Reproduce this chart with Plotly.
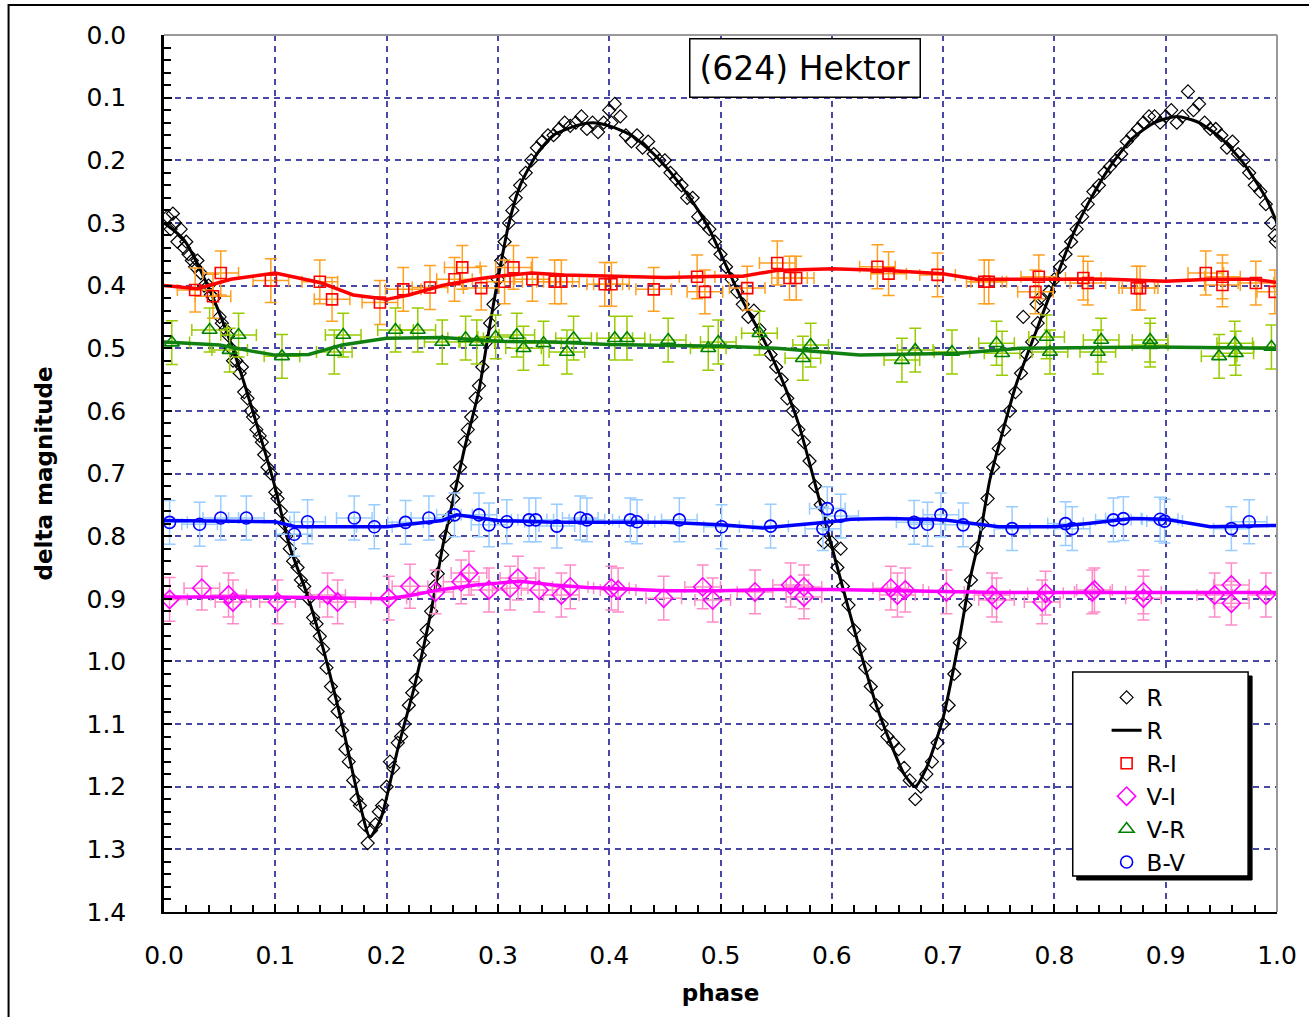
import plotly.graph_objects as go

# ---------------- data ----------------
# R light curve observations (phase, delta magnitude)
r_phase = [0.003,0.006,0.008,0.01,0.012,0.015,0.018,0.02,0.022,0.025,0.028,0.03,0.033,0.036,0.04,0.042,0.045,0.05,0.052,0.055,0.058,0.06,0.062,0.065,0.068,0.07,0.072,0.075,0.078,0.08,0.083,0.086,0.088,0.09,0.093,0.096,0.1,0.102,0.105,0.108,0.11,0.113,0.116,0.12,0.123,0.126,0.13,0.134,0.137,0.14,0.143,0.146,0.15,0.153,0.156,0.16,0.163,0.166,0.17,0.173,0.176,0.18,0.183,0.186,0.19,0.193,0.196,
           0.2,0.203,0.206,0.21,0.213,0.216,0.22,0.223,0.226,0.23,0.233,0.236,0.24,0.243,0.246,0.25,0.253,0.256,0.26,0.263,0.266,0.27,0.273,0.276,0.28,0.283,0.286,0.29,0.293,0.296,0.3,0.303,0.306,0.31,0.313,0.316,0.32,0.325,0.33,0.335,0.34,0.345,0.35,0.355,0.36,0.365,0.37,0.375,0.38,0.385,0.39,0.395,
           0.4,0.402,0.405,0.41,0.415,0.42,0.425,0.43,0.435,0.44,0.445,0.45,0.455,0.46,0.465,0.47,0.475,0.48,0.485,0.49,0.495,0.5,0.505,0.51,0.515,0.52,0.525,0.53,0.535,0.54,0.545,0.55,0.555,0.56,0.565,0.57,0.575,0.58,0.585,0.59,0.593,0.595,0.6,0.605,0.608,0.61,0.615,0.62,0.625,0.63,0.635,0.64,0.645,0.65,0.655,0.66,0.665,0.67,0.675,0.68,0.685,0.69,0.695,0.7,
           0.705,0.71,0.715,0.72,0.725,0.73,0.735,0.74,0.745,0.75,0.755,0.76,0.765,0.77,0.772,0.775,0.78,0.784,0.785,0.787,0.79,0.795,0.8,0.805,0.81,0.815,0.82,0.825,0.83,0.835,0.84,0.845,0.85,0.855,0.86,0.865,0.87,0.875,0.88,0.885,0.89,0.895,0.9,0.905,0.91,0.915,0.92,0.925,0.93,0.935,0.94,0.945,0.95,0.955,0.96,0.965,0.97,0.975,0.98,0.985,0.99,0.995,0.998,0.999]
r_mag = [0.29,0.31,0.285,0.30,0.33,0.31,0.34,0.33,0.35,0.36,0.37,0.36,0.38,0.40,0.40,0.415,0.42,0.45,0.46,0.47,0.48,0.50,0.52,0.52,0.54,0.53,0.57,0.58,0.60,0.61,0.63,0.64,0.65,0.67,0.69,0.70,0.73,0.74,0.76,0.78,0.80,0.82,0.84,0.85,0.87,0.88,0.90,0.93,0.94,0.96,0.98,1.01,1.04,1.06,1.08,1.11,1.14,1.16,1.19,1.22,1.23,1.26,1.29,1.27,1.26,1.24,1.23,
         1.20,1.16,1.17,1.13,1.12,1.10,1.07,1.05,1.03,0.99,0.97,0.95,0.92,0.88,0.86,0.83,0.80,0.77,0.74,0.72,0.69,0.65,0.63,0.61,0.58,0.56,0.53,0.49,0.46,0.43,0.39,0.36,0.33,0.30,0.28,0.26,0.24,0.22,0.20,0.18,0.17,0.16,0.16,0.15,0.14,0.145,0.14,0.13,0.15,0.14,0.155,0.14,
         0.12,0.14,0.11,0.13,0.16,0.17,0.16,0.18,0.17,0.19,0.20,0.20,0.22,0.23,0.24,0.26,0.26,0.29,0.30,0.31,0.33,0.35,0.37,0.39,0.41,0.43,0.45,0.44,0.47,0.49,0.51,0.53,0.55,0.58,0.60,0.63,0.65,0.68,0.72,0.75,0.81,0.78,0.81,0.85,0.82,0.88,0.91,0.95,0.98,1.01,1.04,1.07,1.10,1.12,1.13,1.14,1.17,1.19,1.22,1.20,1.18,1.16,1.13,1.10,
         1.07,1.02,0.97,0.91,0.87,0.82,0.78,0.74,0.69,0.66,0.63,0.60,0.57,0.54,0.45,0.51,0.49,0.43,0.46,0.42,0.44,0.41,0.39,0.37,0.35,0.33,0.31,0.29,0.27,0.25,0.24,0.22,0.21,0.20,0.19,0.17,0.16,0.15,0.14,0.13,0.13,0.14,0.13,0.12,0.14,0.13,0.09,0.12,0.11,0.14,0.15,0.15,0.16,0.18,0.17,0.19,0.20,0.22,0.24,0.25,0.27,0.30,0.32,0.33]

# R fitted curve
fit_phase = [0.0,0.018,0.041,0.059,0.071,0.098,0.113,0.128,0.14,0.16,0.175,0.185,0.195,0.21,0.225,0.24,0.25,0.26,0.27,0.283,0.292,0.30,0.31,0.32,0.335,0.35,0.37,0.385,0.40,0.42,0.44,0.46,0.48,0.49,0.504,0.518,0.539,0.554,0.57,0.584,0.608,0.625,0.64,0.655,0.665,0.675,0.685,0.70,0.715,0.724,0.733,0.742,0.754,0.766,0.784,0.802,0.817,0.83,0.85,0.87,0.89,0.91,0.93,0.95,0.97,0.99,1.0]
fit_mag = [0.30,0.327,0.407,0.487,0.55,0.71,0.817,0.89,0.96,1.10,1.22,1.28,1.25,1.14,1.04,0.92,0.82,0.74,0.66,0.567,0.471,0.39,0.30,0.24,0.19,0.16,0.145,0.14,0.145,0.16,0.19,0.23,0.28,0.31,0.364,0.418,0.487,0.545,0.62,0.71,0.87,0.98,1.07,1.14,1.18,1.20,1.17,1.09,0.96,0.87,0.80,0.71,0.63,0.556,0.471,0.386,0.317,0.27,0.21,0.165,0.14,0.13,0.14,0.165,0.205,0.26,0.30]

# R-I
ri_phase = [0.028,0.044,0.051,0.096,0.140,0.151,0.194,0.215,0.239,0.261,0.268,0.285,0.306,0.314,0.331,0.351,0.357,0.396,0.402,0.44,0.479,0.486,0.524,0.551,0.562,0.568,0.641,0.651,0.695,0.737,0.741,0.783,0.786,0.826,0.83,0.874,0.877,0.936,0.951,0.951,0.981,0.998]
ri_mag = [0.407,0.417,0.380,0.392,0.394,0.422,0.427,0.406,0.403,0.39,0.371,0.404,0.394,0.371,0.39,0.394,0.394,0.398,0.398,0.406,0.386,0.41,0.404,0.364,0.388,0.388,0.37,0.381,0.383,0.394,0.394,0.41,0.386,0.388,0.396,0.404,0.404,0.38,0.386,0.399,0.396,0.41]
ri_line_phase = [0.0,0.03,0.06,0.1,0.14,0.17,0.2,0.22,0.25,0.28,0.3,0.33,0.36,0.4,0.45,0.5,0.52,0.55,0.6,0.65,0.7,0.73,0.78,0.82,0.85,0.9,0.94,0.98,1.0]
ri_line_mag = [0.40,0.405,0.39,0.38,0.395,0.415,0.422,0.415,0.40,0.39,0.385,0.38,0.383,0.385,0.387,0.385,0.385,0.376,0.373,0.376,0.381,0.39,0.39,0.39,0.39,0.393,0.39,0.39,0.395]

# V-I
vi_phase = [0.005,0.034,0.058,0.062,0.102,0.147,0.156,0.202,0.221,0.244,0.267,0.274,0.292,0.311,0.318,0.337,0.357,0.365,0.402,0.408,0.449,0.484,0.493,0.531,0.563,0.575,0.575,0.653,0.659,0.666,0.703,0.744,0.748,0.789,0.792,0.834,0.836,0.88,0.88,0.944,0.959,0.959,0.99]
vi_mag = [0.901,0.883,0.894,0.905,0.905,0.894,0.905,0.899,0.88,0.889,0.873,0.859,0.886,0.883,0.867,0.886,0.894,0.881,0.883,0.886,0.899,0.881,0.902,0.889,0.878,0.881,0.897,0.883,0.894,0.886,0.889,0.894,0.902,0.905,0.891,0.889,0.886,0.889,0.899,0.894,0.878,0.907,0.894]
vi_line_phase = [0.0,0.1,0.2,0.22,0.25,0.28,0.3,0.32,0.35,0.38,0.4,0.45,0.5,0.55,0.6,0.65,0.7,0.75,0.8,0.85,0.9,0.95,1.0]
vi_line_mag = [0.897,0.897,0.9,0.895,0.885,0.878,0.875,0.872,0.878,0.882,0.883,0.887,0.887,0.885,0.885,0.887,0.888,0.89,0.89,0.89,0.89,0.89,0.89]

# V-R
vr_phase = [0.007,0.041,0.059,0.067,0.106,0.153,0.161,0.208,0.228,0.25,0.271,0.281,0.298,0.317,0.323,0.341,0.362,0.368,0.405,0.416,0.453,0.489,0.498,0.535,0.574,0.581,0.663,0.675,0.708,0.748,0.753,0.793,0.796,0.839,0.842,0.886,0.886,0.948,0.962,0.963,0.995]
vr_mag = [0.491,0.471,0.503,0.479,0.513,0.506,0.479,0.471,0.471,0.49,0.484,0.49,0.482,0.479,0.5,0.492,0.506,0.484,0.484,0.484,0.487,0.5,0.49,0.476,0.516,0.495,0.519,0.503,0.506,0.492,0.508,0.482,0.506,0.506,0.487,0.487,0.495,0.513,0.492,0.508,0.498]
vr_line_phase = [0.0,0.05,0.08,0.1,0.13,0.16,0.2,0.25,0.3,0.35,0.4,0.45,0.5,0.55,0.6,0.625,0.714,0.77,0.89,1.0]
vr_line_mag = [0.49,0.495,0.505,0.511,0.51,0.495,0.484,0.483,0.489,0.49,0.494,0.495,0.497,0.50,0.507,0.511,0.508,0.50,0.498,0.50]

# B-V
bv_phase = [0.005,0.032,0.051,0.074,0.117,0.129,0.171,0.189,0.217,0.238,0.261,0.283,0.292,0.308,0.328,0.334,0.353,0.374,0.38,0.419,0.425,0.463,0.501,0.545,0.592,0.596,0.608,0.674,0.686,0.698,0.718,0.762,0.81,0.816,0.853,0.862,0.895,0.899,0.959,0.975]
bv_mag = [0.778,0.781,0.771,0.771,0.797,0.777,0.771,0.785,0.778,0.771,0.766,0.766,0.782,0.777,0.774,0.774,0.784,0.771,0.774,0.774,0.777,0.774,0.785,0.784,0.788,0.756,0.768,0.778,0.781,0.766,0.782,0.788,0.78,0.788,0.774,0.772,0.773,0.776,0.788,0.777]
bv_line_phase = [0.0,0.1,0.118,0.2,0.25,0.263,0.3,0.35,0.4,0.45,0.5,0.538,0.6,0.617,0.65,0.7,0.75,0.8,0.83,0.87,0.9,0.94,1.0]
bv_line_mag = [0.775,0.777,0.785,0.785,0.775,0.766,0.775,0.778,0.778,0.778,0.782,0.787,0.777,0.773,0.772,0.774,0.785,0.785,0.78,0.772,0.773,0.785,0.783]

ERR_MAG = 0.035
ERR_PHASE = 0.016

x_ticks = [0.0, 0.1, 0.2, 0.3, 0.4, 0.5, 0.6, 0.7, 0.8, 0.9, 1.0]
y_ticks = [0.0, 0.1, 0.2, 0.3, 0.4, 0.5, 0.6, 0.7, 0.8, 0.9, 1.0, 1.1, 1.2, 1.3, 1.4]

# ---------------- figure ----------------
FONT = "DejaVu Sans"
fig = go.Figure()

fig.add_trace(go.Scatter(x=r_phase, y=r_mag, mode="markers", name="R",
                         marker=dict(symbol="diamond-open", size=10, color="black", line=dict(width=1.2))))
fig.add_trace(go.Scatter(x=fit_phase, y=fit_mag, mode="lines", name="R",
                         line=dict(color="black", width=3, shape="spline", smoothing=0.6)))

def idx_trace(px, py, name, sym, size, col, ecol):
    return go.Scatter(x=px, y=py, mode="markers", name=name,
                      marker=dict(symbol=sym, size=size, color=col, line=dict(width=1.6, color=col)),
                      error_y=dict(type="constant", value=ERR_MAG, color=ecol, thickness=1.5, width=6),
                      error_x=dict(type="constant", value=ERR_PHASE, color=ecol, thickness=1.5, width=6))

fig.add_trace(idx_trace(ri_phase, ri_mag, "R-I", "square-open", 11, "#FF0000", "#FFA020"))
fig.add_trace(idx_trace(vi_phase, vi_mag, "V-I", "diamond-open", 14, "#FF00FF", "#FF8CC8"))
fig.add_trace(idx_trace(vr_phase, vr_mag, "V-R", "triangle-up-open", 13, "#008000", "#99CC00"))
fig.add_trace(idx_trace(bv_phase, bv_mag, "B-V", "circle-open", 12, "#0000FF", "#99CCFF"))

for px, py, col in [(ri_line_phase, ri_line_mag, "#FF0000"), (vi_line_phase, vi_line_mag, "#FF00FF"),
                    (vr_line_phase, vr_line_mag, "#108010"), (bv_line_phase, bv_line_mag, "#0000FF")]:
    fig.add_trace(go.Scatter(x=px, y=py, mode="lines", showlegend=False,
                             line=dict(color=col, width=3.5), hoverinfo="skip"))

L, R_, T, B = 164, 1281, 35, 912
W, H = R_ - L, B - T
def px_x(x): return (x - L) / W
def px_y(y): return (B - y) / H

shapes = [
    # outer frame
    dict(type="rect", xref="paper", yref="paper", x0=px_x(8), x1=px_x(1330), y0=px_y(1040), y1=px_y(5),
         line=dict(color="black", width=2), fillcolor="rgba(0,0,0,0)", layer="below"),
    # top & right plot-area border
    dict(type="line", xref="paper", yref="paper", x0=0, x1=1, y0=1, y1=1, line=dict(color="#999999", width=2)),
    dict(type="line", xref="paper", yref="paper", x0=1, x1=1, y0=0, y1=1, line=dict(color="#999999", width=2)),
    # legend shadow and box
    dict(type="rect", xref="paper", yref="paper", x0=px_x(1080), x1=px_x(1256), y0=px_y(880), y1=px_y(676),
         line=dict(color="black", width=1), fillcolor="black", layer="above"),
    dict(type="rect", xref="paper", yref="paper", x0=px_x(1076), x1=px_x(1252), y0=px_y(876), y1=px_y(672),
         line=dict(color="black", width=1.5), fillcolor="white", layer="above"),
]

fig.update_layout(
    width=1309, height=1017,
    margin=dict(l=L, r=1309 - R_, t=T, b=1017 - B),
    paper_bgcolor="white", plot_bgcolor="white",
    font=dict(family=FONT, color="black"),
    shapes=shapes,
    showlegend=True,
    legend=dict(x=px_x(1110), y=px_y(676), xanchor="left", yanchor="top",
                bgcolor="rgba(0,0,0,0)", borderwidth=0, font=dict(size=23, family=FONT),
                tracegroupgap=0, itemsizing="trace"),
    annotations=[dict(text="(624) Hektor", xref="paper", yref="paper", x=px_x(807), y=px_y(68),
                      xanchor="center", yanchor="middle", showarrow=False,
                      font=dict(size=33, family=FONT, color="black"),
                      bordercolor="black", borderwidth=1.5, borderpad=9, bgcolor="white")],
)

grid = dict(showgrid=True, gridcolor="#4848A8", gridwidth=1.5, griddash="6px,5px")
fig.update_xaxes(range=[0, 1], tickvals=x_ticks, tickformat=".1f", **grid,
                 showline=True, linecolor="black", linewidth=2, zeroline=False,
                 ticks="inside", ticklen=8, tickwidth=1.5, tickcolor="black",
                 minor=dict(ticks="inside", ticklen=7, tickwidth=1.5, tickcolor="black", dtick=0.02, showgrid=False),
                 tickfont=dict(size=25, family=FONT), ticklabelstandoff=20,
                 title=dict(text="<b>phase</b>", font=dict(size=23, family=FONT), standoff=16))
fig.update_yaxes(range=[1.4, 0], tickvals=y_ticks, tickformat=".1f", **grid,
                 showline=True, linecolor="black", linewidth=2.5, zeroline=False,
                 ticks="inside", ticklen=8, tickwidth=1.5, tickcolor="black",
                 minor=dict(ticks="inside", ticklen=7, tickwidth=1.5, tickcolor="black", dtick=0.02, showgrid=False),
                 tickfont=dict(size=25, family=FONT), ticklabelstandoff=30,
                 title=dict(text="<b>delta magnitude</b>", font=dict(size=23, family=FONT), standoff=28))

fig.write_html("out.html")
